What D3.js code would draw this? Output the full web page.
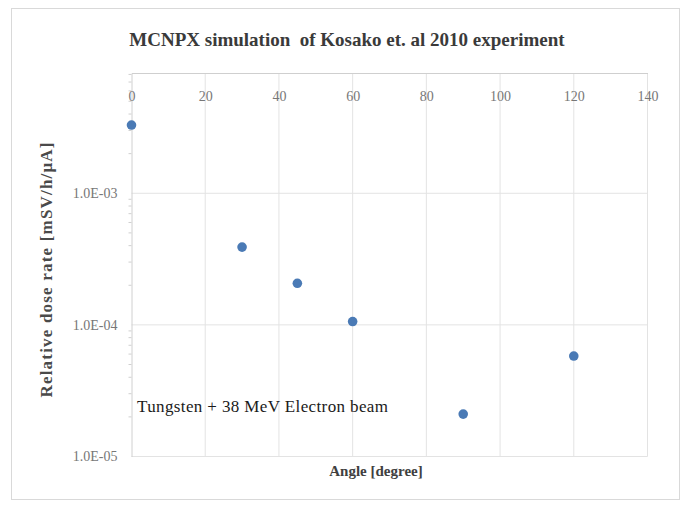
<!DOCTYPE html>
<html>
<head>
<meta charset="utf-8">
<script src="https://cdn.jsdelivr.net/npm/d3@7/dist/d3.min.js"></script>
<style>
  html, body { margin: 0; padding: 0; background: #fff; }
  svg { display: block; }
</style>
</head>
<body>
<script>
// Simulated relative dose rate by detector angle
const angles = [0, 30, 45, 60, 90, 120];
const doseRates = [3.3e-3, 3.9e-4, 2.07e-4, 1.06e-4, 2.1e-5, 5.8e-5];
const xTicks = [0, 20, 40, 60, 80, 100, 120, 140];
const yTicks = [1e-5, 1e-4, 1e-3];
const yTickLabels = ["1.0E-05", "1.0E-04", "1.0E-03"];
const titleText = "MCNPX simulation  of Kosako et. al 2010 experiment";
const xTitle = "Angle [degree]";
const yTitle = "Relative dose rate [mSV/h/\u03bcA]";
const noteText = "Tungsten + 38 MeV Electron beam";
const yMax = 8.2e-3;

const serif = "'Liberation Serif', 'Times New Roman', serif";
const W = 683, H = 507;
const plot = { left: 131.5, right: 647.5, top: 73, bottom: 456.5 };

const svg = d3.select("body").append("svg")
  .attr("width", W).attr("height", H);

// chart frame
svg.append("rect")
  .attr("x", 11.5).attr("y", 8.5).attr("width", 668).attr("height", 491)
  .attr("fill", "#fff").attr("stroke", "#d9d9d9").attr("stroke-width", 1);

const x = d3.scaleLinear().domain([0, 140]).range([plot.left, plot.right]);
const y = d3.scaleLog().domain([1e-5, yMax]).range([plot.bottom, plot.top]);

// vertical gridlines
svg.append("g").selectAll("line").data(xTicks.slice(1)).join("line")
  .attr("x1", d => x(d)).attr("x2", d => x(d))
  .attr("y1", plot.top).attr("y2", plot.bottom)
  .attr("stroke", "#e3e3e3").attr("stroke-width", 1);

// horizontal gridlines
svg.append("g").selectAll("line").data(yTicks).join("line")
  .attr("x1", plot.left).attr("x2", plot.right)
  .attr("y1", d => y(d)).attr("y2", d => y(d))
  .attr("stroke", "#e3e3e3").attr("stroke-width", 1);

// value axis on the left, with minor log ticks
const minor = [];
for (let e = -5; e <= -3; e++) {
  for (let m = 2; m <= 9; m++) {
    const v = m * Math.pow(10, e);
    if (v <= yMax) minor.push(v);
  }
}
const yAxis = d3.axisLeft(y).tickValues(yTicks)
  .tickFormat((d, i) => yTickLabels[i]).tickSize(0).tickPadding(14);
const gy = svg.append("g").attr("transform", `translate(${plot.left},0)`).call(yAxis);
gy.select(".domain").attr("stroke", "#d0d0d0");
gy.selectAll("text")
  .attr("font-family", serif)
  .attr("font-size", 14).attr("fill", "#777");
svg.append("g").selectAll("line").data(minor).join("line")
  .attr("x1", plot.left - 3).attr("x2", plot.left)
  .attr("y1", d => y(d)).attr("y2", d => y(d))
  .attr("stroke", "#d0d0d0");

// category axis along the top
const xAxis = d3.axisTop(x).tickValues(xTicks).tickSize(0).tickFormat(d3.format("d"));
const gx = svg.append("g").attr("transform", `translate(0,${plot.top})`).call(xAxis);
gx.select(".domain").attr("stroke", "#cfcfcf");
gx.selectAll("text")
  .attr("y", 24).attr("dy", "0.32em")
  .attr("font-family", serif)
  .attr("font-size", 14).attr("fill", "#777");

// data points
svg.append("g").selectAll("circle").data(angles).join("circle")
  .attr("cx", d => x(d))
  .attr("cy", (d, i) => y(doseRates[i]))
  .attr("r", 4.8)
  .attr("fill", "#4a7ab5");

// title and axis titles
svg.append("text")
  .attr("x", 347).attr("y", 46)
  .attr("text-anchor", "middle")
  .attr("font-family", serif)
  .attr("font-weight", "bold").attr("font-size", 19)
  .attr("fill", "#3a3a3a")
  .style("white-space", "pre")
  .text(titleText);

svg.append("text")
  .attr("x", 376).attr("y", 476)
  .attr("text-anchor", "middle")
  .attr("font-family", serif)
  .attr("font-weight", "bold").attr("font-size", 15)
  .attr("fill", "#404040")
  .text(xTitle);

svg.append("text")
  .attr("transform", `translate(52,${270}) rotate(-90)`)
  .attr("text-anchor", "middle")
  .attr("font-family", serif)
  .attr("font-weight", "bold").attr("font-size", 17)
  .attr("textLength", 255).attr("lengthAdjust", "spacing")
  .attr("fill", "#4a4a4a")
  .text(yTitle);

svg.append("text")
  .attr("x", 137).attr("y", 412)
  .attr("font-family", serif)
  .attr("font-size", 17)
  .attr("textLength", 251).attr("lengthAdjust", "spacing")
  .attr("fill", "#1a1a1a")
  .text(noteText);
</script>
</body>
</html>
